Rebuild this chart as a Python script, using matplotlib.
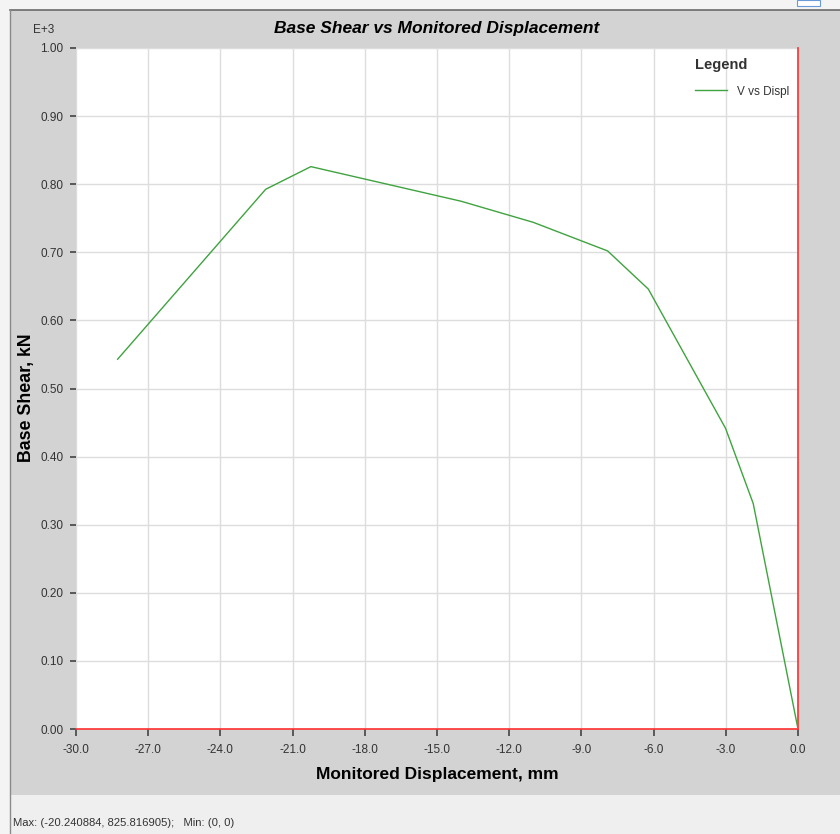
import matplotlib
matplotlib.use('Agg')
import matplotlib.pyplot as plt
from matplotlib.patches import Rectangle
import numpy as np

# pushover curve (displacement mm, base shear kN x 1E+3)
displ = [-28.27, -22.12, -20.24, -14.0, -11.0, -7.91, -6.22, -3.01, -1.86, 0.0]
shear = [0.543, 0.7925, 0.8258, 0.775, 0.744, 0.702, 0.646, 0.4415, 0.331, 0.0]

xticks = np.arange(-30.0, 0.1, 3.0)
yticks = np.arange(0.0, 1.01, 0.1)

plt.rcParams['font.family'] = ['Liberation Sans', 'DejaVu Sans']

fig = plt.figure(figsize=(8.4, 8.34), dpi=100)
fig.patch.set_facecolor('#f4f4f4')

W, H = 840.0, 834.0
# grey chart panel and status bar
fig.patches.append(Rectangle((10 / W, 1 - 795 / H), 830 / W, 785 / H, transform=fig.transFigure,
                             facecolor='#d3d3d3', edgecolor='none', zorder=-2))
fig.patches.append(Rectangle((10 / W, 0), 830 / W, 1 - 795 / H, transform=fig.transFigure,
                             facecolor='#efefef', edgecolor='none', zorder=-2))
fig.lines.append(plt.Line2D([10 / W, 840 / W], [1 - 10 / H, 1 - 10 / H], transform=fig.transFigure,
                            color='#6a6a6a', lw=1.2, zorder=-1))
fig.lines.append(plt.Line2D([10 / W, 10 / W], [0, 1 - 10 / H], transform=fig.transFigure,
                            color='#8a8a8a', lw=1.0, zorder=-1))
fig.patches.append(Rectangle((797 / W, 1 - 6 / H), 23 / W, 6 / H, transform=fig.transFigure,
                             facecolor='white', edgecolor='#6a9ad8', lw=0.8, zorder=-1))

ax = fig.add_axes([76 / W, 1 - 729 / H, 722 / W, 681 / H])
ax.set_zorder(2)
ax.set_facecolor('white')

ax.plot(displ, shear, color='#3fa33f', lw=1.0, label='V vs Displ', zorder=3)

ax.set_xlim(-30, 0)
ax.set_ylim(0, 1.0)
ax.set_xticks(xticks)
ax.set_xticklabels(['%.1f' % v for v in xticks])
ax.set_yticks(yticks)
ax.set_yticklabels(['%.2f' % v for v in yticks])
ax.grid(True, color='#dddddd', lw=1.0)
ax.set_axisbelow(True)

for s in ['top', 'left']:
    ax.spines[s].set_visible(False)
ax.spines['bottom'].set_color('#ff3030')
ax.spines['right'].set_color('#ff3030')
ax.spines['bottom'].set_linewidth(1.2)
ax.spines['right'].set_linewidth(1.2)

ax.tick_params(axis='both', direction='out', length=5, width=1.2, color='#444444',
               labelsize=8.5, labelcolor='#333333')
ax.tick_params(axis='y', length=4, pad=5)
ax.tick_params(axis='x', pad=6)

ax.set_title('Base Shear vs Monitored Displacement', fontsize=12.5, fontweight='bold',
             fontstyle='italic', pad=11)
ax.set_xlabel('Monitored Displacement, mm', fontsize=12.5, fontweight='bold', labelpad=8)
ax.set_ylabel('Base Shear, kN', fontsize=12.8, fontweight='bold')
ax.yaxis.set_label_coords(-0.057, 0.486)

fig.text(44 / W, 1 - 30 / H, 'E+3', fontsize=8.5, ha='center', va='center', color='#333333')

leg = ax.legend(loc='upper right', frameon=False, fontsize=8.5, title='Legend',
                title_fontproperties={'weight': 'bold', 'size': 10.5},
                handlelength=2.7, labelspacing=1.15, labelcolor='#333333',
                bbox_to_anchor=(1.002, 1.001))
leg._legend_box.align = 'left'
leg.get_title().set_color('#333333')

fig.text(13 / W, 1 - 823 / H, 'Max: (-20.240884, 825.816905);   Min: (0, 0)',
         fontsize=8.1, ha='left', va='center', color='#333333')

fig.savefig('out.png', dpi=100, facecolor=fig.get_facecolor())
